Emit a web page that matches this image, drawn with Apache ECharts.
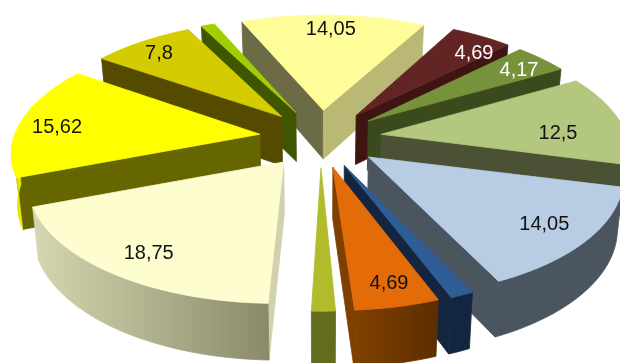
<!DOCTYPE html>
<html>
<head>
<meta charset="utf-8">
<style>html,body{margin:0;padding:0;background:#fff}#c{width:620px;height:363px}</style>
<script src="https://cdn.jsdelivr.net/npm/echarts@6/dist/echarts.min.js"></script>
</head>
<body>
<div id="c"></div>
<script>
// data, clockwise from the top slice
const labels = ['14,05','4,69','4,17','12,5','14,05','','4,69','','18,75','15,62','7,8',''];
const values = [14.05,4.69,4.17,12.5,14.05,1.3,4.69,1.3,18.75,15.62,7.8,1.04];

// palette
const topColors   = ['#FFFD99','#632523','#76933C','#B3C77F','#B8CCE4','#2F5E96','#E36C09','#B2BB2C','#FDFDD0','#FFFF00','#D4CC00','#A2CD00'];
const startWalls  = ['#6B6B45','#3F1513','#3B4A1C','#4A5135','#4A5560','#14263F','#7F3F00','#626B1E','#D1D1AE','#666600','#544B00','#3F5500'];
const endWalls    = ['#B9B975','#3F1513','#3B4A1C','#4A5135','#4A5560','#14263F','#7F3F00','#626B1E','#D1D1AE','#666600','#544B00','#3F5500'];
const outerFrom   = ['#B9B975','#3F1513','#3B4A1C','#4A5135','#4A5560','#14263F','#804000','#626B1E','#D6D7B0','#E6E600','#544B00','#3F5500'];
const outerTo     = ['#B9B975','#3F1513','#3B4A1C','#4A5135','#4A5560','#14263F','#5C2E00','#626B1E','#8B8B6C','#E6E600','#544B00','#3F5500'];
const textColors  = ['#111','#fff','#fff','#111','#111','#111','#111','#111','#111','#111','#111','#111'];
// fine placement of the slices and labels
const angleNudge  = [0,0,0,0,-1,-1,-1,0,0,-0.7,-0.8,-0.8];
const labelNudgeX = [-1,12,5,-21,0,0,8,0,4,-5,-7,0];
const labelNudgeY = [0,5,2,11,-2,0,3,0,1,5,1,0];

// view of the tilted pie
const view = {cx:320.5, cy:138, A:246, B:115, p:0.136, depth:50, converge:0.02, explode:0.25, startAngle:-22.5, labelR:0.83};
const total = values.reduce((s,x)=>s+x,0);
const rad = d => d*Math.PI/180;

function project(u,v,z){
  const zz = z||0;
  const s = 1/(1-view.p*v);
  const c = 1-view.converge*zz/view.depth;
  return [view.cx+view.A*u*s*c, view.cy+view.B*v*s+zz*Math.pow(s,0.7)];
}
function renderItem(params, api){
  const i = api.value(0), val = api.value(1);
  let before = 0;
  for(let k=0;k<i;k++) before += values[k];
  const a00 = view.startAngle + before/total*360;
  const a10 = a00 + val/total*360;
  const mid = (a00+a10)/2;
  const a0 = a00 + angleNudge[i], a1 = a10 + angleNudge[i];
  const ox = Math.sin(rad(mid))*view.explode, oy = -Math.cos(rad(mid))*view.explode;
  const pt = (ang,r,z)=>project(ox+Math.sin(rad(ang))*r, oy-Math.cos(rad(ang))*r, z);
  const D = view.depth;
  const z = Math.round(-Math.cos(rad(mid))*1000)+2000;
  const children = [];
  const poly = (points,fill,zz)=>({type:'polygon',shape:{points},z2:zz,
    style:{fill,stroke:fill,lineWidth:0.8}});
  // radial walls facing the viewer
  if(-Math.sin(rad(a0))>0) children.push(poly([pt(0,0),pt(a0,1),pt(a0,1,D),pt(0,0,D)],startWalls[i],z));
  if(Math.sin(rad(a1))>0)  children.push(poly([pt(0,0),pt(a1,1),pt(a1,1,D),pt(0,0,D)],endWalls[i],z));
  // outer wall
  const lo=Math.max(a0,90), hi=Math.min(a1,270);
  if(hi>lo){
    const t=[],b=[];
    const n=Math.max(4,Math.ceil((hi-lo)/2));
    for(let k=0;k<=n;k++){const g=lo+(hi-lo)*k/n;t.push(pt(g,1));b.unshift(pt(g,1,D));}
    const xs=t.map(q=>q[0]);
    const leftX=Math.min(...xs), rightX=Math.max(...xs);
    const grad={type:'linear',x:leftX,y:0,x2:rightX,y2:0,global:true,
      colorStops:[{offset:0,color:outerFrom[i]},{offset:1,color:outerTo[i]}]};
    children.push(poly(t.concat(b),grad,z+1));
  }
  // top face
  const top=[pt(0,0)];
  const n=Math.max(4,Math.ceil((a1-a0)/2));
  for(let k=0;k<=n;k++) top.push(pt(a0+(a1-a0)*k/n,1));
  children.push(poly(top,topColors[i],z+2));
  // label
  if(labels[i]){
    const q=pt(mid,view.labelR);
    children.push({type:'text',z2:9000,style:{text:labels[i],x:q[0]+labelNudgeX[i],y:q[1]+labelNudgeY[i],fill:textColors[i],
      font:'20px "Liberation Sans", Arial, sans-serif',align:'center',verticalAlign:'middle'}});
  }
  return {type:'group',children};
}

const chart = echarts.init(document.getElementById('c'),null,{renderer:'canvas'});
chart.setOption({
  animation:false,
  backgroundColor:'#fff',
  series:[{
    type:'custom',
    coordinateSystem:'none',
    renderItem,
    silent:true,
    clip:false,
    encode:{},
    data:values.map((v,i)=>[i,v])
  }]
});
</script>
</body>
</html>
